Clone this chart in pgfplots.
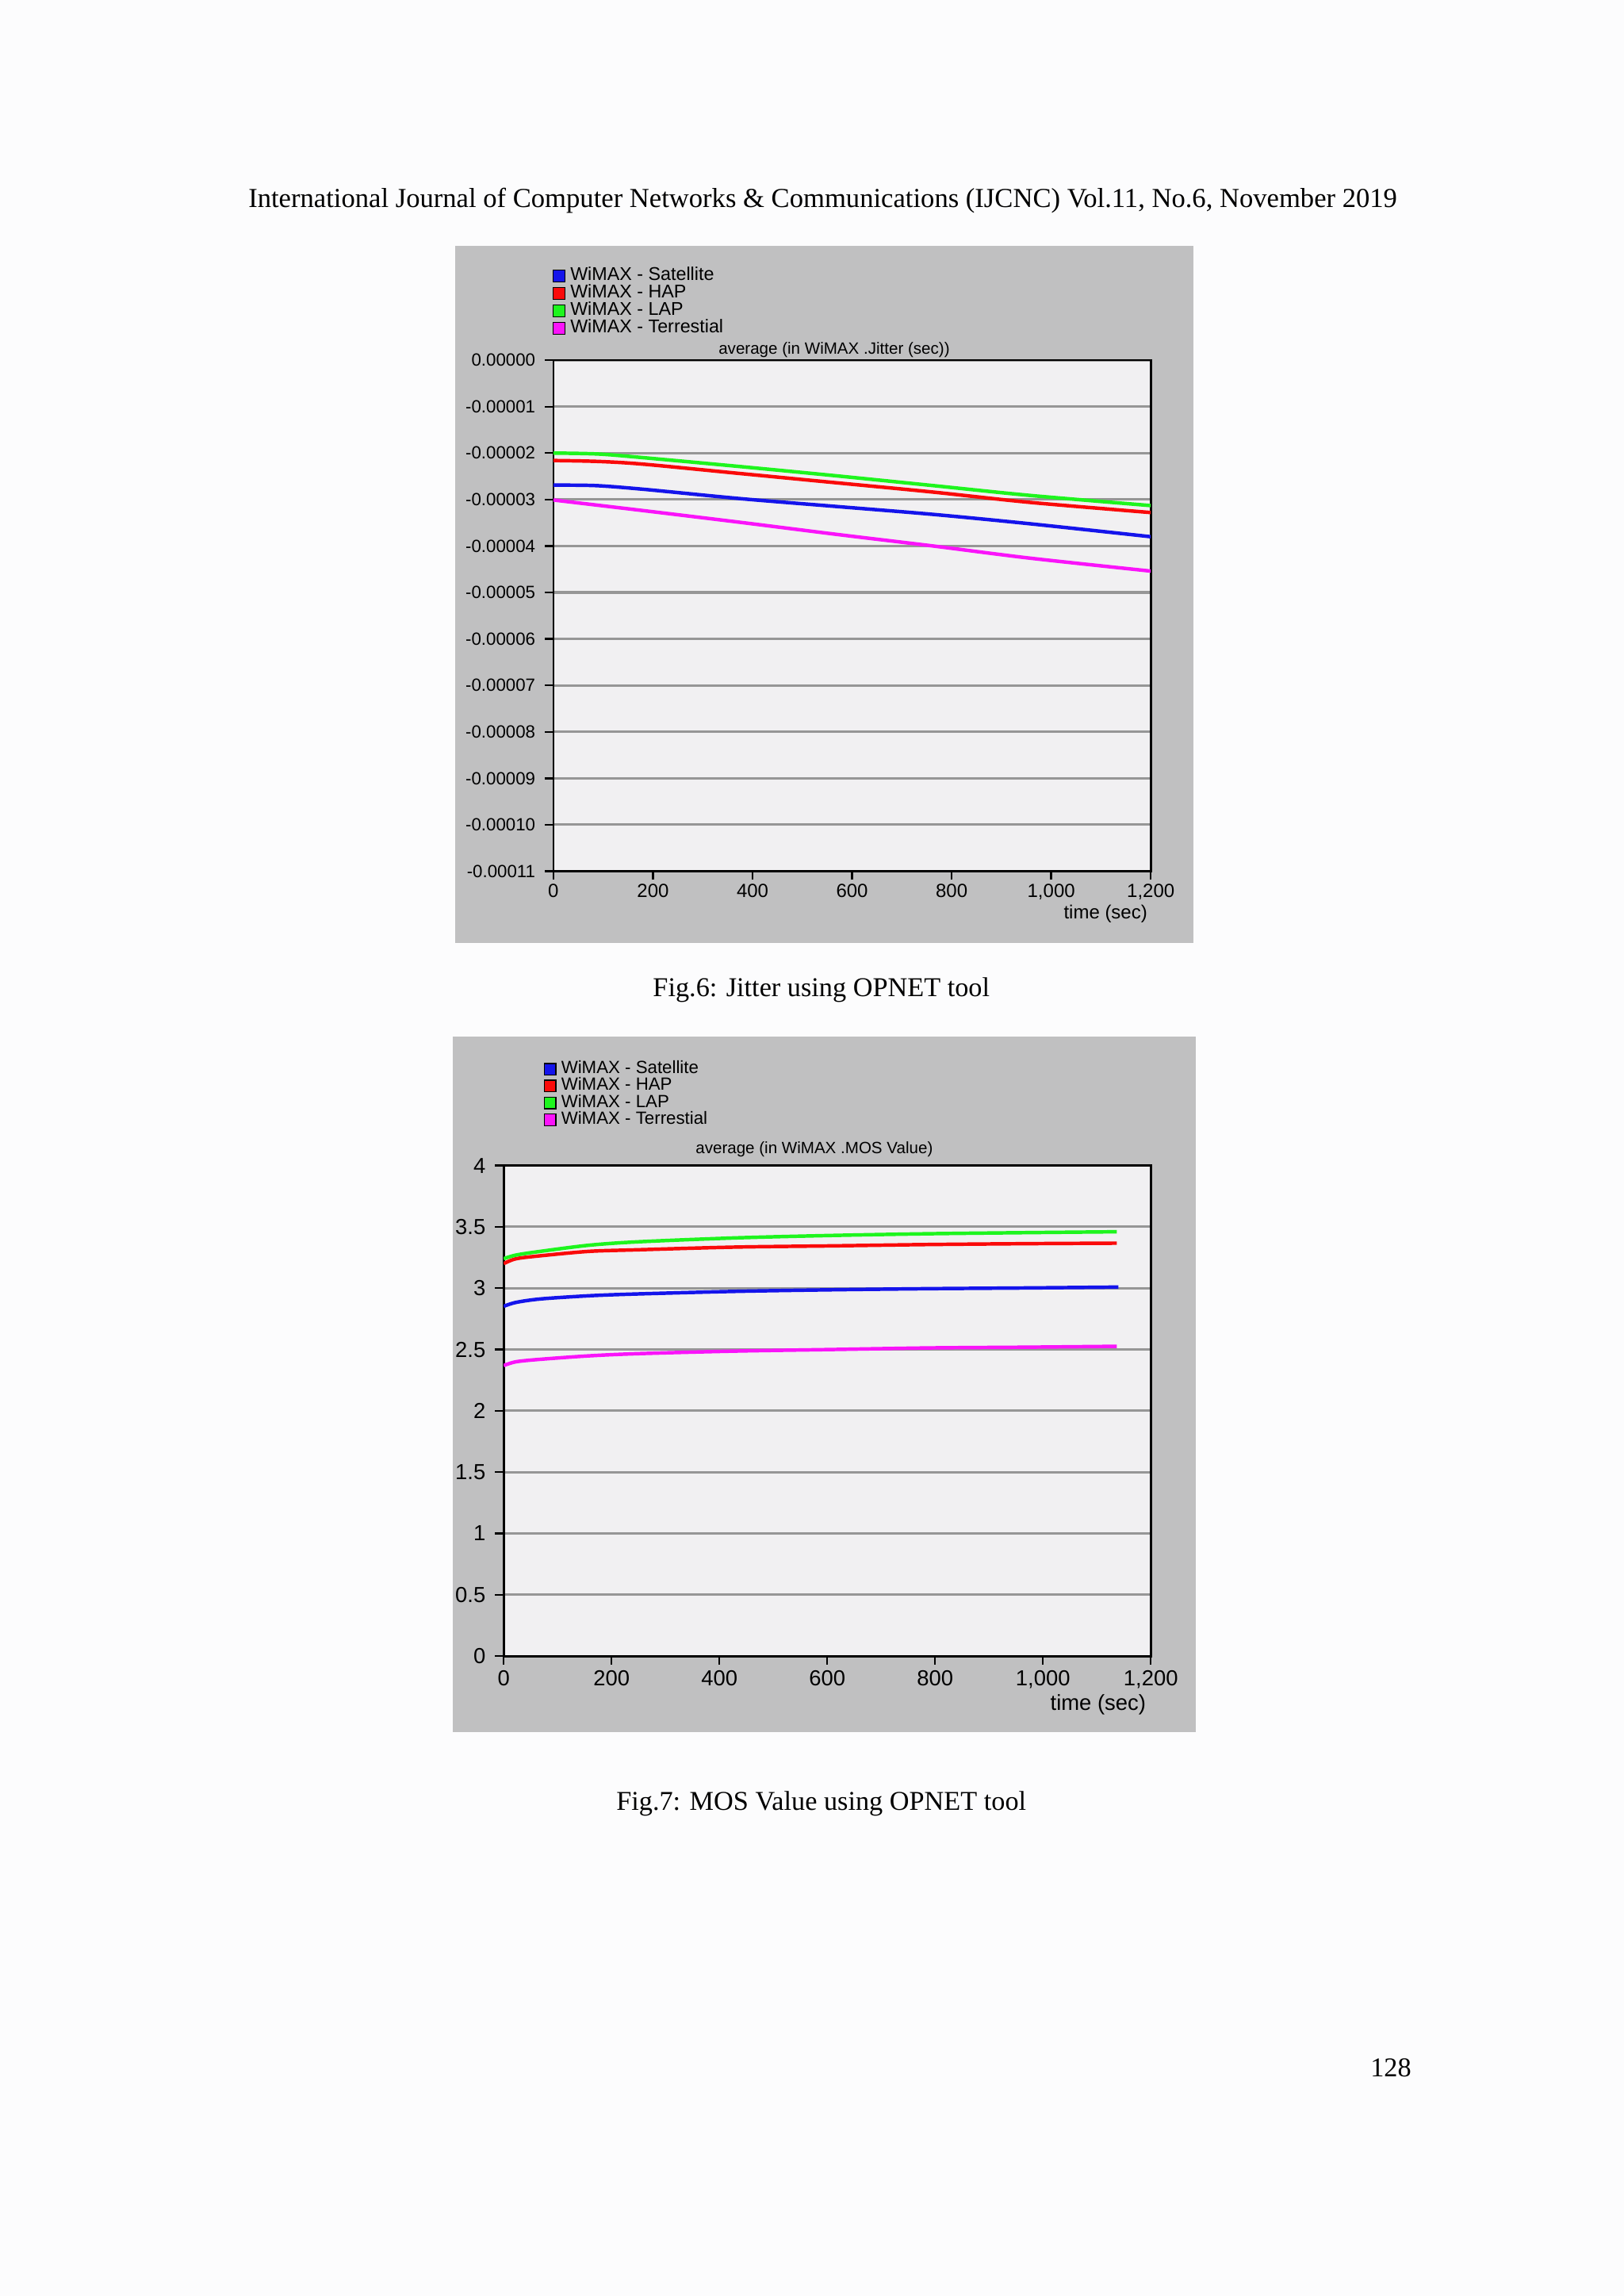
\documentclass[border=0pt]{standalone}
\usepackage{fontspec}
\setmainfont{Liberation Serif}
\newfontfamily\chartfont{Liberation Sans}
\usepackage{pgfplots}
\pgfplotsset{compat=1.18}
\definecolor{panel}{RGB}{192,192,193}
\definecolor{plotbg}{RGB}{241,240,242}
\definecolor{gridc}{RGB}{150,150,150}
\definecolor{wblue}{RGB}{20,20,235}
\definecolor{wred}{RGB}{250,10,10}
\definecolor{wgreen}{RGB}{30,245,30}
\definecolor{wmag}{RGB}{250,20,250}
\definecolor{pagebg}{RGB}{252,252,253}

\pgfplotsset{opnet/.style={
  scale only axis,
  axis background/.style={fill=plotbg},
  axis line style={black,line width=0.8pt},
  tick align=outside, tick pos=left, major tick length=1.1mm,
  tick style={black,line width=0.7pt},
  ymajorgrids, grid style={gridc,line width=0.9pt},
  xmin=0, xmax=1200, xtick={0,200,...,1200},
  xticklabels={0,200,400,600,800,{1,000},{1,200}},
  every axis title shift=0pt,
  title style={font=\chartfont\fontsize{6}{7}\selectfont, inner sep=1pt},
  legend cell align=left,
  legend style={draw=none, fill=none, inner sep=0pt, row sep=-1.2pt,
    font=\chartfont\fontsize{6.5}{7}\selectfont,
    nodes={inner ysep=0.6pt, inner xsep=1.8pt}},
  legend image code/.code={\filldraw[#1,draw=black,line width=0.4pt] (0mm,-0.75mm) rectangle (1.5mm,0.75mm);},
  every axis plot/.append style={line width=1.3pt, no marks},
}}

\begin{document}
\begin{tikzpicture}[x=0.18936mm,y=0.18936mm]
\fill[pagebg] (0,0) rectangle (1109,1568);
\path[use as bounding box] (0,0) rectangle (1109,1568);

\node[font=\fontsize{10.1}{12}\selectfont] at (562,1431)
  {International Journal of Computer Networks \& Communications (IJCNC) Vol.11, No.6, November 2019};

% ---- Fig. 6: jitter ----
\fill[panel] (311,924) rectangle (815,1400);
\coordinate (A1) at (378,973);
\begin{axis}[opnet, at={(A1)}, anchor=south west,
  width=77.26mm, height=66.09mm,
  ymin=-11, ymax=0, ytick={0,-1,...,-11},
  yticklabels={0.00000,-0.00001,-0.00002,-0.00003,-0.00004,-0.00005,-0.00006,-0.00007,-0.00008,-0.00009,-0.00010,-0.00011},
  yticklabel style={font=\chartfont\fontsize{6.5}{7}\selectfont},
  xticklabel style={font=\chartfont\fontsize{7}{8}\selectfont, yshift=0.7mm},
  title={average (in WiMAX .Jitter (sec))},
  title style={at={(0.47,1)}, anchor=south, yshift=-0.1mm},
  legend style={at={(-0.002,1.186)}, anchor=north west,
    font=\chartfont\fontsize{6.8}{7}\selectfont},
]
\addplot[color=wblue, smooth] coordinates {(0,-2.69)(85,-2.70)(182,-2.78)(375,-2.98)(569,-3.15)(763,-3.32)(956,-3.52)(1200,-3.80)};
\addplot[color=wred, smooth] coordinates {(0,-2.16)(90,-2.18)(182,-2.24)(375,-2.44)(569,-2.64)(763,-2.84)(956,-3.06)(1200,-3.28)};
\addplot[color=wgreen, smooth] coordinates {(0,-2.00)(90,-2.02)(182,-2.10)(375,-2.29)(569,-2.49)(763,-2.70)(956,-2.91)(1200,-3.13)};
\addplot[color=wmag, smooth] coordinates {(0,-3.01)(182,-3.24)(375,-3.49)(569,-3.75)(763,-4.00)(956,-4.26)(1200,-4.54)};
\legend{WiMAX - Satellite, WiMAX - HAP, WiMAX - LAP, WiMAX - Terrestial}
\end{axis}
\node[anchor=east, inner sep=0pt, font=\chartfont\fontsize{7}{8}\selectfont] at (784,944) {time (sec)};
\node[font=\fontsize{10}{12}\selectfont] at (561,892) {Fig.6: Jitter using OPNET tool};

% ---- Fig. 7: MOS ----
\fill[panel] (309,385) rectangle (817,860);
\coordinate (A2) at (344,437);
\begin{axis}[opnet, at={(A2)}, anchor=south west,
  width=83.70mm, height=63.44mm,
  ymin=0, ymax=4, ytick={0,0.5,...,4},
  yticklabels={0,0.5,1,1.5,2,2.5,3,3.5,4},
  ticklabel style={font=\chartfont\fontsize{8}{9}\selectfont},
  xticklabel style={yshift=0.5mm},
  title={average (in WiMAX .MOS Value)},
  title style={at={(0.48,1)}, anchor=south, yshift=0.65mm},
  legend style={at={(0.061,1.218)}, anchor=north west},
]
\addplot[color=wblue, smooth] coordinates {(0,2.852)(23,2.884)(68,2.912)(158,2.938)(249,2.953)(430,2.974)(610,2.987)(791,2.996)(972,3.002)(1140,3.009)};
\addplot[color=wred, smooth] coordinates {(0,3.20)(23,3.24)(68,3.264)(158,3.30)(249,3.313)(430,3.335)(610,3.345)(791,3.356)(972,3.363)(1137,3.367)};
\addplot[color=wgreen, smooth] coordinates {(0,3.24)(23,3.27)(68,3.30)(158,3.35)(249,3.378)(430,3.41)(610,3.43)(791,3.444)(972,3.453)(1137,3.46)};
\addplot[color=wmag, smooth] coordinates {(0,2.369)(23,2.40)(68,2.42)(158,2.448)(249,2.466)(430,2.487)(610,2.50)(791,2.513)(972,2.519)(1137,2.526)};
\legend{WiMAX - Satellite, WiMAX - HAP, WiMAX - LAP, WiMAX - Terrestial}
\end{axis}
\node[anchor=east, inner sep=0pt, font=\chartfont\fontsize{8}{9}\selectfont] at (783,404) {time (sec)};
\node[font=\fontsize{10}{12}\selectfont] at (561,336) {Fig.7: MOS Value using OPNET tool};

\node[font=\fontsize{10}{12}\selectfont] at (950,156) {128};
\end{tikzpicture}
\end{document}
